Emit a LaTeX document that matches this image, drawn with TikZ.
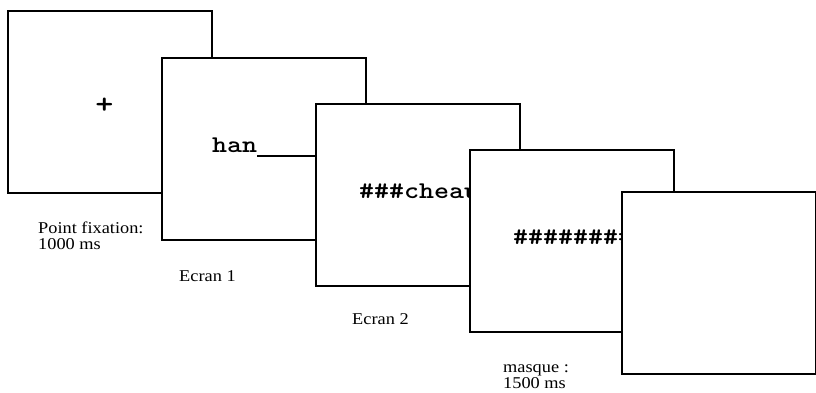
\documentclass[tikz,border=0pt]{standalone}
\usepackage{fontspec}
\setmainfont{Liberation Serif}
\begin{document}
\begin{tikzpicture}[x=1pt,y=-1pt,
  scr/.style={draw=black,line width=2pt,fill=white,rectangle,inner sep=0pt,
    minimum width=204pt,minimum height=182pt},
  mono/.style={font=\ttfamily\bfseries\fontsize{24}{24}\selectfont,inner sep=0pt,xscale=1.19},
  lab/.style={font=\fontsize{16.5}{16}\selectfont,align=left,inner sep=0pt,xscale=1.11,anchor=north west}]
\useasboundingbox (0,0) rectangle (816,392);
\node[scr] (s1) at (110,102) {};
\node[mono,anchor=center,font=\ttfamily\bfseries\fontsize{29}{29}\selectfont] (plus) at (104.5,106) {+};
\node[lab] (l1) at (38,222) {Point fixation:\\1000 ms};
\node[scr] (s2) at (264,148.5) {};
\node[mono,anchor=base west] (t2) at (212,152) {han\rule[-4.5pt]{52pt}{1.4pt}};
\node[lab] (l2) at (179,270) {Ecran 1};
\node[scr] (s3) at (418,194.5) {};
\node[mono,anchor=base west] (t3) at (359,198) {\#\#\#cheau};
\node[lab] (l3) at (352,313.5) {Ecran 2};
\node[scr] (s4) at (572,240.5) {};
\node[mono,anchor=base west] (t4) at (513,244) {\#\#\#\#\#\#\#\#\#};
\node[lab] (l4) at (503,364.5) {masque :\\1500 ms};
\node[scr,minimum width=194pt] (s5) at (719,282.5) {};
\end{tikzpicture}
\end{document}
